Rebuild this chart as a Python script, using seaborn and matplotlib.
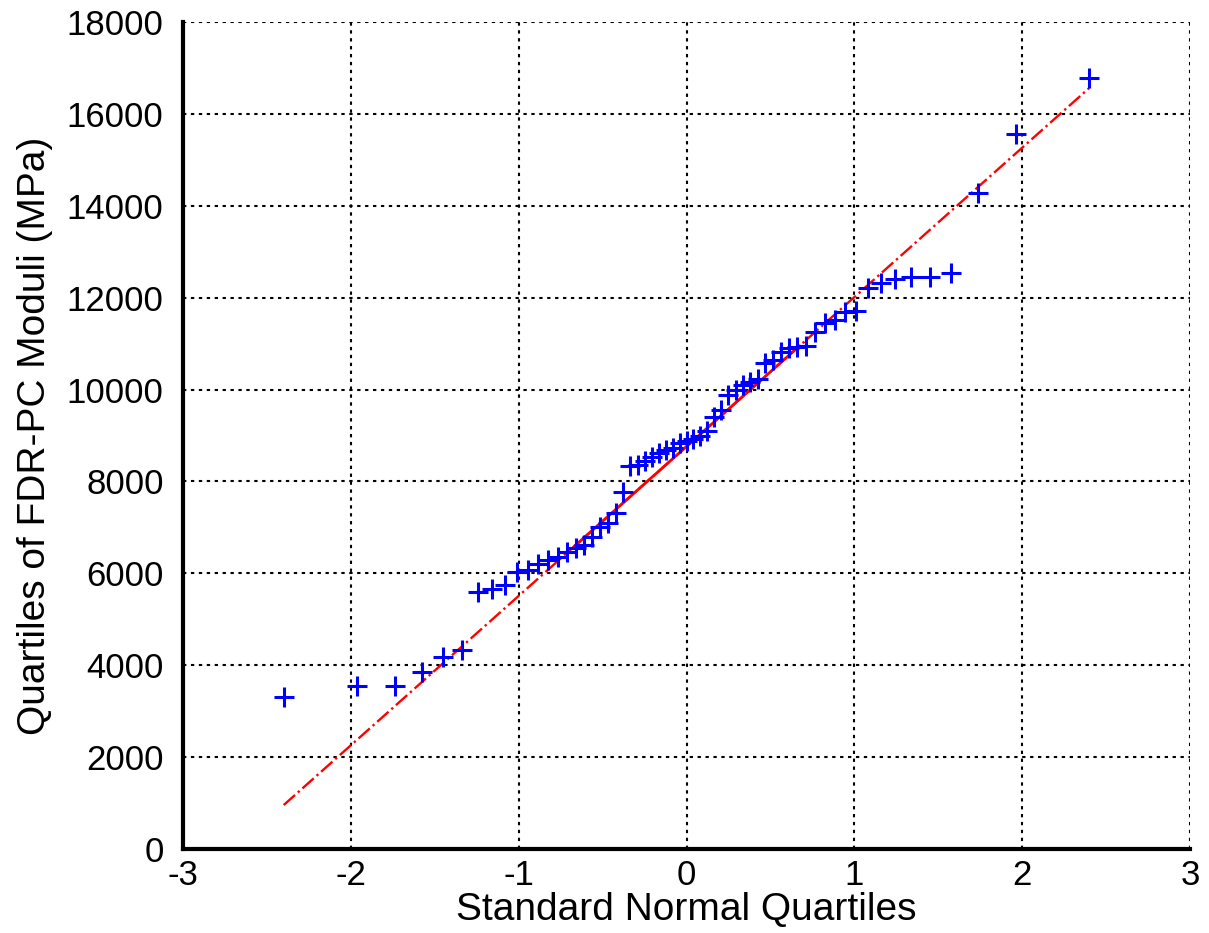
import numpy as np
import pandas as pd
import matplotlib
matplotlib.use("Agg")
import matplotlib.pyplot as plt
import seaborn as sns

# Theoretical standard normal quantiles (x) and sorted sample values (y)
normal_q = [-2.40, -1.966, -1.739, -1.577, -1.449, -1.340, -1.245, -1.160, -1.083, -1.012,
            -0.946, -0.883, -0.824, -0.767, -0.713, -0.661, -0.611, -0.563, -0.515, -0.468,
            -0.423, -0.379, -0.335, -0.292, -0.249, -0.207, -0.165, -0.124, -0.082, -0.041,
            0.0, 0.041, 0.082, 0.124, 0.165, 0.207, 0.249, 0.292, 0.335, 0.379,
            0.423, 0.468, 0.515, 0.563, 0.611, 0.661, 0.713, 0.767, 0.824, 0.883,
            0.946, 1.012, 1.083, 1.160, 1.245, 1.340, 1.449, 1.577, 1.739, 1.966, 2.40]
moduli = [3300, 3550, 3550, 3860, 4190, 4340, 5590, 5670, 5750, 6030,
          6070, 6200, 6290, 6360, 6470, 6545, 6610, 6800, 7000, 7090,
          7320, 7780, 8330, 8360, 8450, 8540, 8610, 8690, 8720, 8830,
          8870, 8920, 9000, 9100, 9400, 9560, 9880, 10000, 10100, 10170,
          10240, 10580, 10650, 10820, 10900, 10930, 10950, 11260, 11440, 11510,
          11690, 11720, 12210, 12310, 12400, 12450, 12460, 12530, 14280, 15560, 16780]

# Reference line (dash-dot over full range, solid between quartiles)
ref_x = [-2.40, 2.40]
ref_y = [958, 16565]
quart_x = [-0.674, 0.674]
quart_y = [6571, 10953]

x_ticks = [-3, -2, -1, 0, 1, 2, 3]
y_ticks = [0, 2000, 4000, 6000, 8000, 10000, 12000, 14000, 16000, 18000]

sns.set_style("white")
plt.rcParams['font.family'] = ['Liberation Sans', 'DejaVu Sans']
plt.rcParams['text.color'] = 'black'
plt.rcParams['axes.labelcolor'] = 'black'

fig = plt.figure(figsize=(12.09, 9.33), dpi=100)
ax = fig.add_axes([0.1514, 0.0900, 0.8329, 0.8864])

df_pts = pd.DataFrame({"q": normal_q, "v": moduli})
df_ref = pd.DataFrame({"q": ref_x, "v": ref_y})
df_quart = pd.DataFrame({"q": quart_x, "v": quart_y})

sns.lineplot(data=df_ref, x="q", y="v", ax=ax, color="red", linestyle="-.",
             linewidth=1.7, zorder=3, estimator=None)
sns.lineplot(data=df_quart, x="q", y="v", ax=ax, color="red", linestyle="-",
             linewidth=2.0, zorder=3, estimator=None)
sns.scatterplot(data=df_pts, x="q", y="v", ax=ax, marker="+", s=210,
                color="#0000ff", linewidth=2.2, zorder=4)

ax.set_xlim(-3, 3)
ax.set_ylim(0, 18000)
ax.set_xticks(x_ticks)
ax.set_yticks(y_ticks)
ax.set_xticklabels([str(t) for t in x_ticks], fontsize=25, color="black")
ax.set_yticklabels([str(t) for t in y_ticks], fontsize=25, color="black")

ax.grid(True, color="black", linestyle=(0, (1.6, 2.2)), linewidth=1.5)
ax.set_axisbelow(True)

for s in ["top", "right"]:
    ax.spines[s].set_visible(False)
for s in ["left", "bottom"]:
    ax.spines[s].set_linewidth(3)
    ax.spines[s].set_color("black")

ax.tick_params(axis="both", direction="in", length=10, width=2.5, colors="black")
ax.tick_params(axis="y", pad=14)
ax.tick_params(axis="x", pad=7)

ax.set_xlabel("Standard Normal Quartiles", fontsize=28, labelpad=0, color="black")
ax.set_ylabel("Quartiles of FDR-PC Moduli (MPa)", fontsize=28, labelpad=10, color="black")

fig.savefig("out.png", dpi=100)
